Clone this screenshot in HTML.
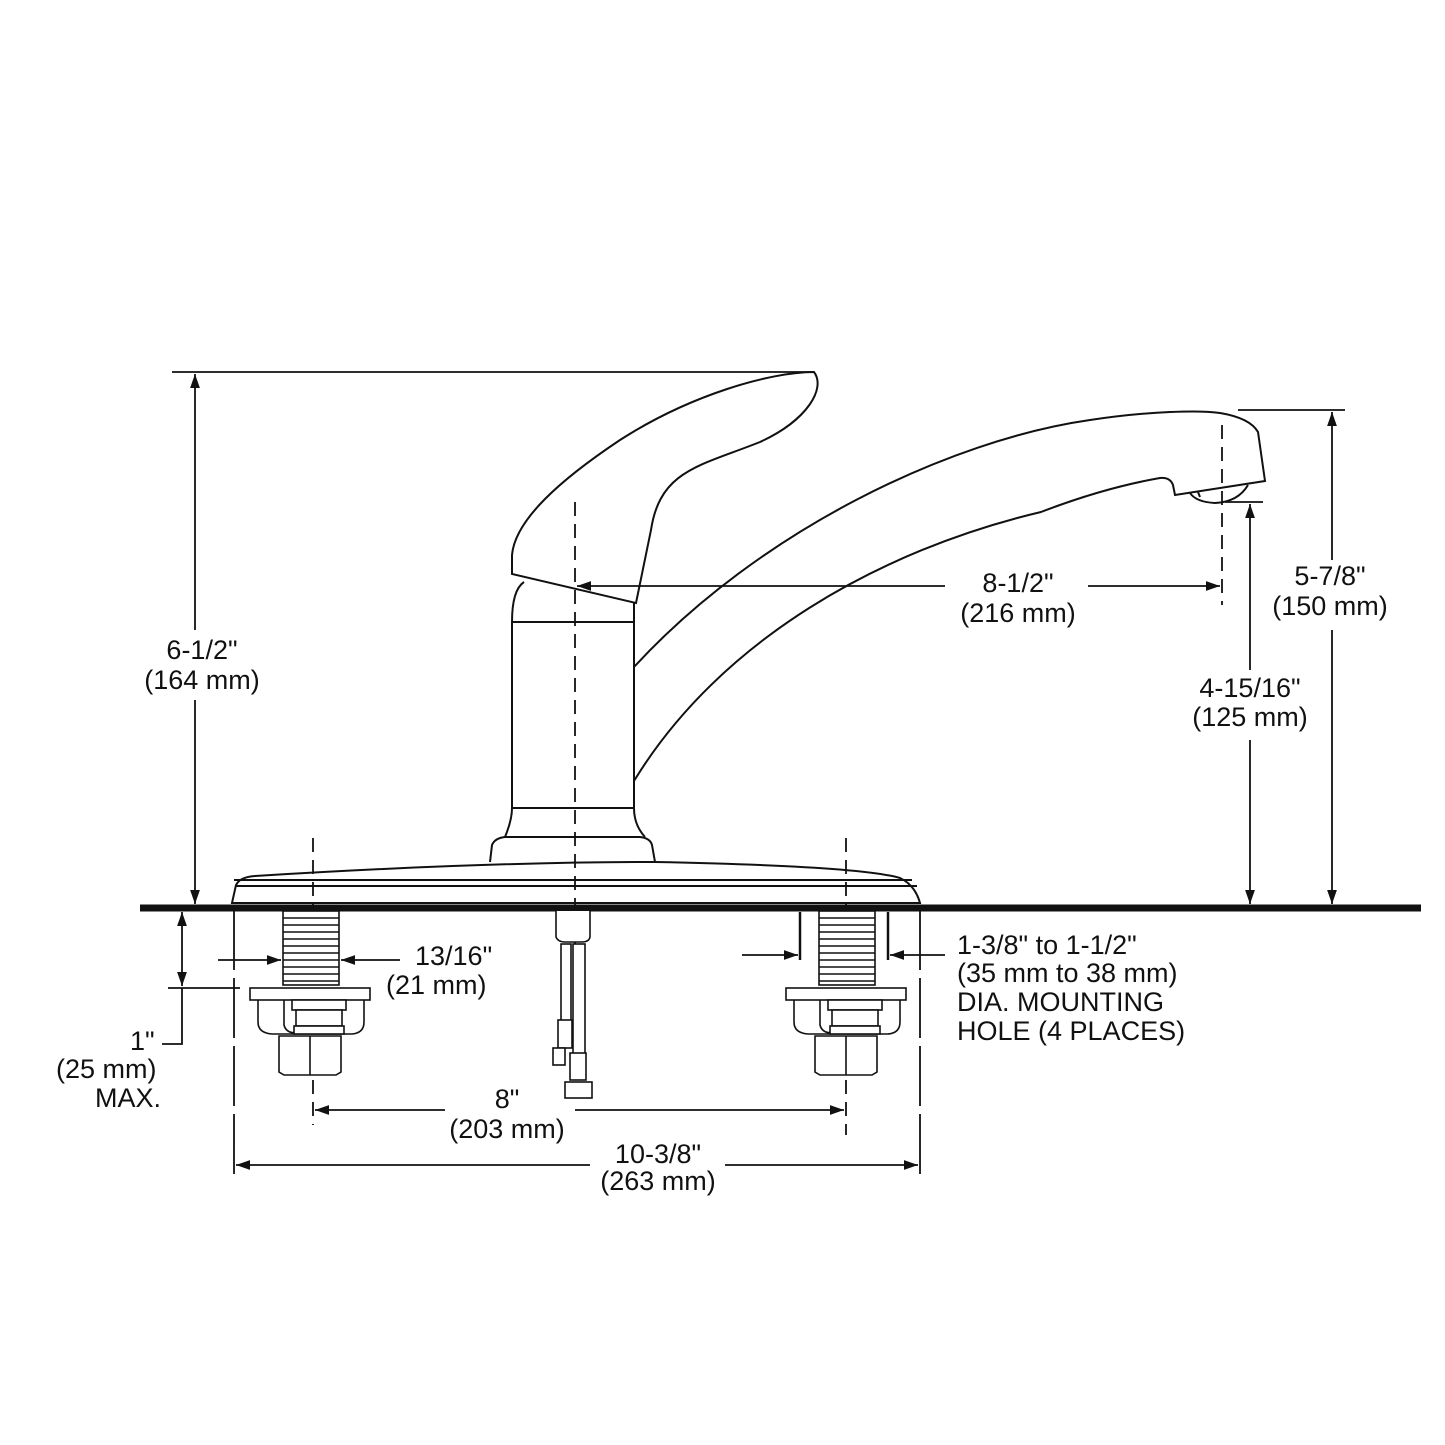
<!DOCTYPE html>
<html><head><meta charset="utf-8"><style>
html,body{margin:0;padding:0;background:#fff}
svg{display:block}
text{font-family:"Liberation Sans",sans-serif;font-size:27px;fill:#111}
</style></head><body>
<svg width="1445" height="1445" viewBox="0 0 1445 1445" xmlns="http://www.w3.org/2000/svg">
<defs>
<marker id="a" viewBox="0 0 10 10" refX="10" refY="5" markerWidth="14" markerHeight="14" markerUnits="userSpaceOnUse" orient="auto-start-reverse"><path d="M0,1.5 L10,5 L0,8.5 z" fill="#111"/></marker>
</defs>
<g stroke="#111" fill="none" stroke-width="2">
<line x1="140" y1="908" x2="1421" y2="908" stroke-width="7"/>
<path d="M232,903 L236,885 Q240,877 255,876 Q480,862 655,862 Q860,866 900,878 Q915,885 920,903 Z" fill="#fff"/>
<line x1="236" y1="886" x2="917" y2="886"/>
<line x1="234" y1="880" x2="912" y2="880"/>
<line x1="232" y1="903" x2="920" y2="903"/>
<path d="M490,862 L492,845 Q495,838 505,837 L640,837 Q650,838 652,845 L655,862"/>
<path d="M505,837 Q512,820 512,808 L512,622 Q512,590 524,582 M634,603 L634,808 Q634,825 645,837"/>
<line x1="512" y1="622" x2="634" y2="622"/>
<line x1="512" y1="808" x2="634" y2="808"/>
<!-- handle -->
<path d="M814,372 C826,388 808,420 760,442 C700,466 660,470 651,530 L636,603 L512,574 L512,555 C515,520 560,480 620,440 C690,395 770,372 814,372 Z" fill="#fff"/>
<!-- spout -->
<path d="M634,667 C760,530 950,440 1090,420 C1150,411 1200,410 1220,413 Q1250,418 1258,432 L1265,481 L1175,495 L1173,485 Q1170,477 1160,478 C1120,485 1080,497 1041,512 C880,550 720,640 634,781"/>
<path d="M1190,493 Q1196,502 1215,503 Q1238,502 1248,485"/>
<path d="M1198,492 L1200,497"/>
</g>
<g stroke="#111" stroke-width="1.8" fill="none" stroke-dasharray="14,8">
<line x1="575" y1="502" x2="575" y2="960"/>
<line x1="1222" y1="425" x2="1222" y2="605"/>
<line x1="313" y1="838" x2="313" y2="1125"/>
<line x1="846" y1="838" x2="846" y2="1135"/>
</g>
<g stroke="#111" stroke-width="1.8" fill="none">
<line x1="234" y1="910" x2="234" y2="1182" stroke-dasharray="60,8"/>
<line x1="920" y1="910" x2="920" y2="1182" stroke-dasharray="60,8"/>
</g>
<g stroke="#111" stroke-width="1.6" fill="#fff">
<g id="sh">
<rect x="283" y="911" width="56" height="74"/>
<path d="M283,918H339M283,925H339M283,932H339M283,939H339M283,946H339M283,953H339M283,960H339M283,967H339M283,974H339M283,981H339" fill="none"/>
<rect x="250" y="988" width="120" height="12"/>
<path d="M258,1000 L258,1022 Q258,1033 272,1034 L352,1034 Q364,1033 364,1022 L364,1000" fill="none"/>
<path d="M284,1000 L284,1025 Q286,1033 296,1033" fill="none"/>
<rect x="292" y="1000" width="54" height="10"/>
<rect x="296" y="1010" width="46" height="16"/>
<rect x="294" y="1026" width="50" height="8"/>
<path d="M279,1036 L341,1036 L341,1072 L336,1075 L284,1075 L279,1072 Z"/>
<line x1="310" y1="1036" x2="310" y2="1075"/>
</g>
<use href="#sh" transform="translate(536,0)"/>
<path d="M556,911 L556,937 Q558,942 565,942 L582,942 Q589,942 590,937 L590,911"/>
<rect x="561" y="944" width="10" height="78"/>
<rect x="573" y="944" width="12" height="110"/>
<rect x="558" y="1020" width="14" height="28"/>
<rect x="553" y="1048" width="12" height="17"/>
<rect x="570" y="1053" width="16" height="27"/>
<rect x="565" y="1082" width="27" height="16"/>
</g>
<g stroke="#111" stroke-width="1.8" fill="none">
<line x1="172" y1="372" x2="814" y2="372"/>
<line x1="195" y1="374" x2="195" y2="630" marker-start="url(#a)"/>
<line x1="195" y1="700" x2="195" y2="904" marker-end="url(#a)"/>
<line x1="1238" y1="410" x2="1345" y2="410"/>
<line x1="1332" y1="412" x2="1332" y2="560" marker-start="url(#a)"/>
<line x1="1332" y1="630" x2="1332" y2="904" marker-end="url(#a)"/>
<line x1="1225" y1="502" x2="1263" y2="502"/>
<line x1="1250" y1="504" x2="1250" y2="670" marker-start="url(#a)"/>
<line x1="1250" y1="740" x2="1250" y2="904" marker-end="url(#a)"/>
<line x1="577" y1="586" x2="945" y2="586" marker-start="url(#a)"/>
<line x1="1088" y1="586" x2="1220" y2="586" marker-end="url(#a)"/>
<line x1="182" y1="912" x2="182" y2="986" marker-start="url(#a)" marker-end="url(#a)"/>
<line x1="168" y1="988" x2="240" y2="988"/>
<polyline points="162,1044 182,1044 182,988"/>
<line x1="218" y1="960" x2="281" y2="960" marker-end="url(#a)"/>
<line x1="400" y1="960" x2="341" y2="960" marker-end="url(#a)"/>
<line x1="800" y1="912" x2="800" y2="960" stroke-width="2.5"/>
<line x1="888" y1="912" x2="888" y2="960" stroke-width="2.5"/>
<line x1="742" y1="955" x2="798" y2="955" marker-end="url(#a)"/>
<line x1="945" y1="955" x2="890" y2="955" marker-end="url(#a)"/>
<line x1="315" y1="1110" x2="445" y2="1110" marker-start="url(#a)"/>
<line x1="575" y1="1110" x2="844" y2="1110" marker-end="url(#a)"/>
<line x1="236" y1="1165" x2="590" y2="1165" marker-start="url(#a)"/>
<line x1="725" y1="1165" x2="918" y2="1165" marker-end="url(#a)"/>
</g>
<g text-anchor="middle">
<text x="202" y="659">6-1/2"</text><text x="202" y="689">(164 mm)</text>
<text x="1018" y="592">8-1/2"</text><text x="1018" y="622">(216 mm)</text>
<text x="1330" y="585">5-7/8"</text><text x="1330" y="615">(150 mm)</text>
<text x="1250" y="697">4-15/16"</text><text x="1250" y="726">(125 mm)</text>
<text x="507" y="1108">8"</text><text x="507" y="1138">(203 mm)</text>
<text x="658" y="1163">10-3/8"</text><text x="658" y="1190">(263 mm)</text>
</g>
<text x="415" y="965">13/16"</text>
<text x="386" y="994">(21 mm)</text>
<text x="130" y="1050">1"</text>
<text x="56" y="1078">(25 mm)</text>
<text x="95" y="1107">MAX.</text>
<text x="957" y="954">1-3/8" to 1-1/2"</text>
<text x="957" y="982">(35 mm to 38 mm)</text>
<text x="957" y="1011">DIA. MOUNTING</text>
<text x="957" y="1040">HOLE (4 PLACES)</text>
</svg>
</body></html>
